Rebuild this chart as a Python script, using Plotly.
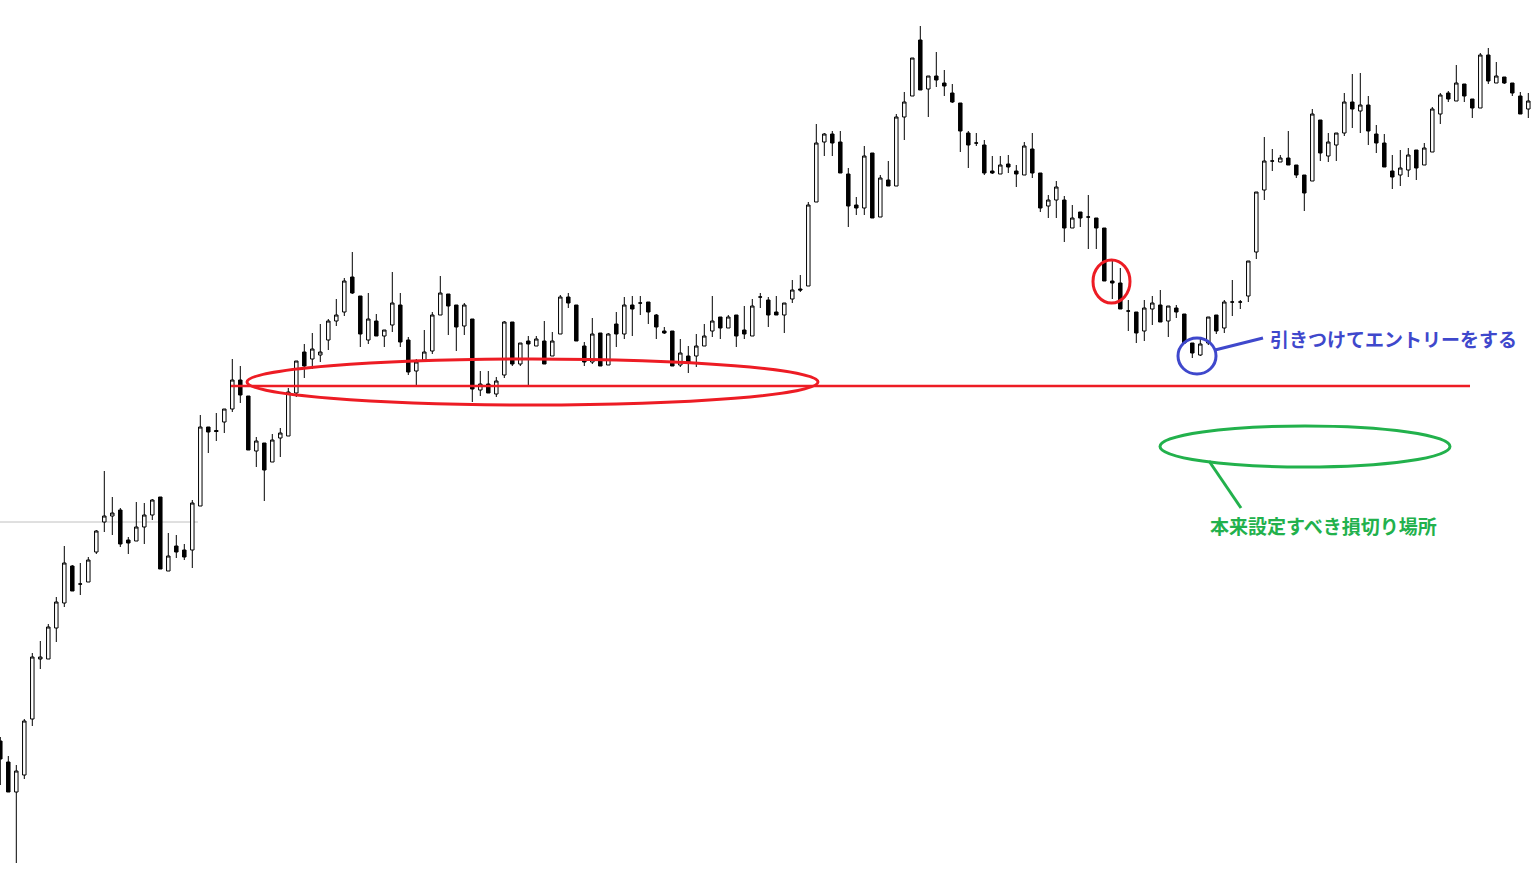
import plotly.graph_objects as go

# Candle values (price units), one entry per bar, left to right
opens = [159,138,108,125,181,241,241,272,297,334,316,318,348,378,384,390,360,359,373,385,
         403,329,354,350,350,394,473,469.5,478,491,520,504,449,457,438,462,464,507,548,541,
         545,560,579,588,623,604,560,579,564,575,595,560,529,540,549,585,606,595,574,581,
         510,516,506,525,578,536,559,554,559,544,566,603,595,554,538,567,535,576,566,595,
         597,598,585,569,569,535,544,544,554,569,583,572,585,570,564,603,600,588,585,601,
         611,614,698,758,766,758,726,695,692,747,683,720,714,783,804,860,811,824,817,807,
         797,767,757,755,729,726,736,729,725,751,727,694,700,700,672,688,683,682,672,619,
         617,589,588,569,591,595,579,592,586,557,545,557,585,572,598,598,604,648,710,739,
         738,742,735,725,719,780,744,755,767,798,789,795,766,757,729,725,730,750,735,748,
         786,807,799,816,801,792,845,817,823,817,804,791]
highs = [163,144,135,181,247,259,276,303,354,335,337,343,370,429,403,392,363,398,397,401,
         403,367,365,356,400,485,473,487,491,541,534,504,463,457,466,472,512,539,556,567,
         576,581,601,622,648,604,607,586,570,628,607,563,541,570,588,624,606,595,597,581,
         529,529,523,579,578,557,564,564,579,568,605,607,595,558,582,567,567,588,603,604,
         604,598,586,573,569,561,554,566,576,604,583,585,585,594,601,607,603,604,597,620,
         625,698,776,767,769,769,732,703,754,747,725,739,786,808,842,874,824,848,830,816,
         797,769,767,760,744,744,745,735,758,767,727,705,719,704,695,688,705,682,672,641,
         632,600,588,600,604,610,594,595,586,557,561,583,585,600,620,600,639,708,763,751,
         745,769,735,725,791,780,767,767,807,826,827,804,775,766,745,750,752,750,757,793,
         807,809,835,816,801,847,852,838,823,817,808,807]
lows = [115,108,37,121,174,231,241,258,293,309,305,318,346,368,365,353,346,359,356,380,
        331,329,342,340,332,394,447,459,467,488,497,450,433,399,438,443,464,503,522,531,
        538,550,574,584,606,553,556,564,553,568,553,525,515,540,546,585,565,549,565,498,
        504,507,503,522,534,534,515,554,536,544,566,592,559,534,536,534,535,553,561,564,
        585,576,561,566,534,533,527,533,554,563,561,572,553,561,564,592,573,585,567,597,
        608,614,698,744,744,727,673,685,685,682,683,714,714,760,804,810,783,813,804,797,
        748,732,754,725,726,726,727,713,725,722,688,682,682,658,672,673,651,651,619,601,
        591,569,557,559,575,578,563,582,557,542,544,555,566,567,584,591,598,641,700,729,
        738,735,722,689,719,739,738,739,764,772,767,755,747,733,711,714,723,720,735,748,
        776,798,799,798,782,792,816,817,816,804,786,782]
closes = [141,108,129,179,243,243,273,298,337,309,316,340,369,384,387,356,357,373,385,400,
          331,344,348,343,397,473,468,468.5,491,520,505,450,459,430,460,467,508,539,534,551,
          548,579,585,619,607,566,581,564,570,597,558,528,538,548,585,607,594,573,595,511,
          516,507,519,578,536,557,556,561,536,559,603,597,559,538,566,534,566,566,595,591,
          597,588,573,567,534,547,538,554,564,579,572,583,564,566,594,603,585,585,597,610,
          610,695,757,766,757,727,694,692,744,682,722,714,783,798,842,810,824,820,814,798,
          769,755,757,727,727,735,733,726,754,727,692,700,713,672,682,682,683,672,619,617,
          591,589,567,592,597,578,594,588,557,547,556,583,569,598,598,598,639,708,739,739,
          742,735,725,707,786,747,758,767,798,791,795,769,757,733,723,732,745,732,752,791,
          805,801,817,804,792,845,819,824,817,807,786,799]
bar_index = list(range(len(opens)))

# Reference levels / labels
support_level = 514          # horizontal support line (price units)
grey_level = 378             # faint horizontal line at left
entry_label = "引きつけてエントリーをする"
stop_label = "本来設定すべき損切り場所"

W, H = 1533, 891
STEP = 8.0
X0PX = 0.3
PTOP = 900.0


def xp(px):  # screen pixel -> bar index units
    return (px - X0PX) / STEP


def yp(py):  # screen pixel -> price units
    return PTOP - py


RED = "#ED1C24"
BLUE = "#3F48CC"
GREEN = "#22B14C"

fig = go.Figure()
fig.add_trace(go.Candlestick(
    x=bar_index, open=opens, high=highs, low=lows, close=closes,
    increasing=dict(fillcolor="white", line=dict(color="black", width=1)),
    decreasing=dict(fillcolor="black", line=dict(color="black", width=1)),
    whiskerwidth=0, hoverinfo="skip", showlegend=False,
))

shapes = [
    dict(type="line", xref="x", yref="y", x0=xp(0), x1=xp(198), y0=grey_level, y1=grey_level,
         line=dict(color="#c0c0c0", width=1), layer="below"),
    dict(type="line", xref="x", yref="y", x0=xp(231), x1=xp(1470), y0=support_level, y1=support_level,
         line=dict(color=RED, width=2.6)),
    dict(type="circle", xref="x", yref="y", x0=xp(247), x1=xp(818), y0=yp(359), y1=yp(405),
         line=dict(color=RED, width=3)),
    dict(type="circle", xref="x", yref="y", x0=xp(1093), x1=xp(1130), y0=yp(260), y1=yp(303),
         line=dict(color=RED, width=3)),
    dict(type="circle", xref="x", yref="y", x0=xp(1178), x1=xp(1216), y0=yp(338), y1=yp(374),
         line=dict(color=BLUE, width=3)),
    dict(type="line", xref="x", yref="y", x0=xp(1215), x1=xp(1263), y0=yp(350), y1=yp(338),
         line=dict(color=BLUE, width=3)),
    dict(type="circle", xref="x", yref="y", x0=xp(1160), x1=xp(1450), y0=yp(426), y1=yp(467),
         line=dict(color=GREEN, width=3)),
    dict(type="line", xref="x", yref="y", x0=xp(1209), x1=xp(1241), y0=yp(461), y1=yp(508),
         line=dict(color=GREEN, width=3)),
]

annotations = [
    dict(x=xp(1393), y=yp(338), xref="x", yref="y", text="<b>" + entry_label + "</b>",
         showarrow=False, xanchor="center", yanchor="middle",
         font=dict(family="Noto Sans CJK JP", size=19, color=BLUE)),
    dict(x=xp(1323), y=yp(525), xref="x", yref="y", text="<b>" + stop_label + "</b>",
         showarrow=False, xanchor="center", yanchor="middle",
         font=dict(family="Noto Sans CJK JP", size=19, color=GREEN)),
]

fig.update_layout(
    width=W, height=H, autosize=False,
    margin=dict(l=0, r=0, t=0, b=0, pad=0),
    paper_bgcolor="white", plot_bgcolor="white",
    boxgap=0.38,
    xaxis=dict(range=[xp(0), xp(W)], visible=False, showgrid=False, zeroline=False,
               rangeslider=dict(visible=False), fixedrange=True),
    yaxis=dict(range=[yp(H), yp(0)], visible=False, showgrid=False, zeroline=False, fixedrange=True),
    shapes=shapes, annotations=annotations,
    showlegend=False,
)

fig.write_html(
    "out.html",
    config={"displayModeBar": False},
    post_script="document.body.style.margin='0';document.body.style.overflow='hidden';",
)
